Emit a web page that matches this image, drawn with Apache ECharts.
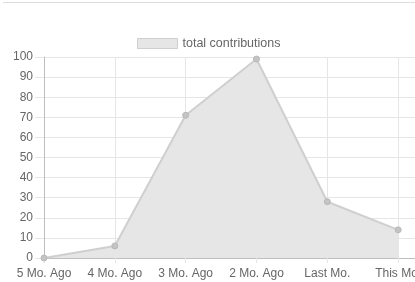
<!DOCTYPE html>
<html>
<head>
<meta charset="utf-8">
<script src="https://cdn.jsdelivr.net/npm/echarts@6/dist/echarts.min.js"></script>
<style>
  html, body { margin: 0; padding: 0; background: #fff; }
  #main { width: 415px; height: 282px; }
</style>
</head>
<body>
<div id="main"></div>
<script>
// months shown on the x axis (last slot is an empty one past the crop)
const months = ['5 Mo. Ago', '4 Mo. Ago', '3 Mo. Ago', '2 Mo. Ago', 'Last Mo.', 'This Mo.', ''];
const contributions = [0, 6, 71, 99, 28, 14];
const seriesName = 'total contributions';

const chart = echarts.init(document.getElementById('main'));
const font = '"Liberation Sans", Arial, Helvetica, sans-serif';

const option = {
  animation: false,
  graphic: [
    { type: 'rect', shape: { x: 3, y: 2, width: 412, height: 1 }, style: { fill: '#dedede' } }
  ],
  legend: {
    data: [seriesName],
    left: 137,
    top: 37,
    icon: 'rect',
    itemWidth: 40,
    itemHeight: 10,
    itemStyle: { color: '#e6e6e6', borderColor: '#cfcfcf', borderWidth: 1 },
    textStyle: { color: '#666', fontSize: 12.5, fontFamily: font },
    padding: 0
  },
  grid: { left: 44, right: -54, top: 57, bottom: 24, outerBoundsMode: 'none' },
  xAxis: {
    type: 'category',
    data: months,
    boundaryGap: false,
    axisLine: { lineStyle: { color: '#bfbfbf' } },
    axisTick: { show: true, length: 5, lineStyle: { color: '#e6e6e6' } },
    axisLabel: { color: '#666', fontSize: 12, fontFamily: font, margin: 10, interval: 0 },
    splitLine: { show: true, lineStyle: { color: '#e6e6e6' } }
  },
  yAxis: {
    type: 'value',
    min: 0,
    max: 100,
    interval: 10,
    axisLine: { show: true, lineStyle: { color: '#bfbfbf' } },
    axisTick: { show: true, length: 9, lineStyle: { color: '#e6e6e6' } },
    axisLabel: { color: '#666', fontSize: 12, fontFamily: font, margin: 11 },
    splitLine: { lineStyle: { color: '#e6e6e6' } }
  },
  series: [
    {
      name: seriesName,
      type: 'line',
      data: contributions,
      symbol: 'circle',
      symbolSize: 6,
      lineStyle: { color: '#cfcfcf', width: 2 },
      itemStyle: { color: '#c4c4c4', borderColor: '#b8b8b8', borderWidth: 1 },
      areaStyle: { color: '#e6e6e6', opacity: 1 }
    }
  ]
};

chart.setOption(option);
</script>
</body>
</html>
